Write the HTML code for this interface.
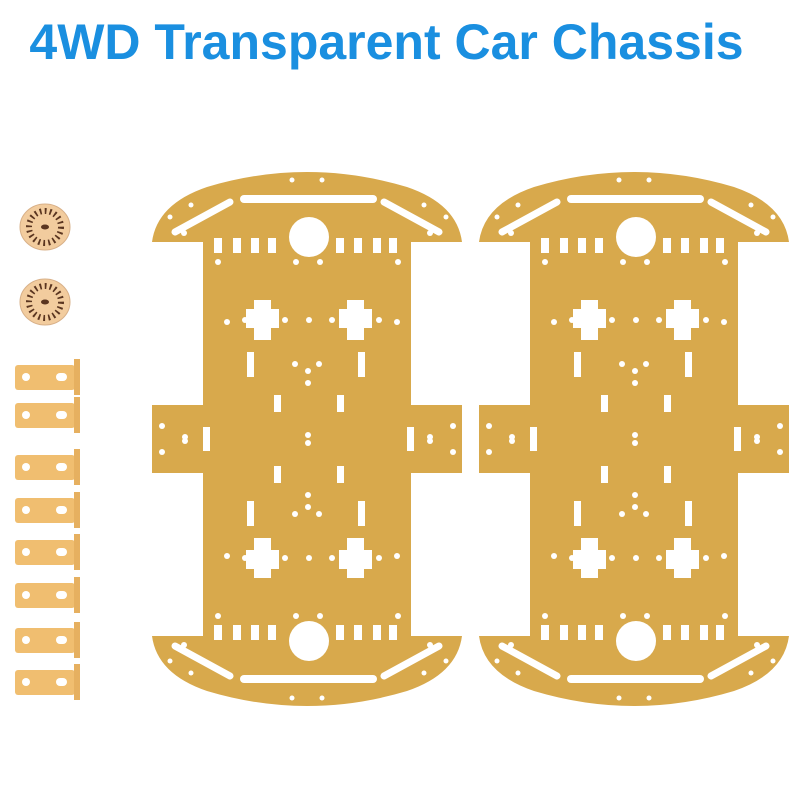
<!DOCTYPE html>
<html><head><meta charset="utf-8"><style>
html,body{margin:0;padding:0;background:#fff;width:800px;height:800px;overflow:hidden}
.t{position:absolute;left:0;top:12px;width:773px;text-align:center;font-family:"Liberation Sans",sans-serif;font-weight:bold;font-size:50px;line-height:60px;color:#1a8fe0;white-space:nowrap}
</style></head><body>
<div class="t">4WD Transparent Car Chassis</div>
<svg width="800" height="800" style="position:absolute;left:0;top:0">
<defs>
<g id="half" fill="#fff">
  <circle cx="2" cy="-202" r="20"/>
  <rect x="-67" y="-244" width="137" height="8" rx="4"/>
  <line x1="-132" y1="-207" x2="-77" y2="-237" stroke="#fff" stroke-width="7" stroke-linecap="round"/>
  <line x1="132" y1="-207" x2="77" y2="-237" stroke="#fff" stroke-width="7" stroke-linecap="round"/>
  <rect x="-93" y="-201" width="8" height="15"/><rect x="-74" y="-201" width="8" height="15"/>
  <rect x="-56" y="-201" width="8" height="15"/><rect x="-39" y="-201" width="8" height="15"/>
  <rect x="29" y="-201" width="8" height="15"/><rect x="47" y="-201" width="8" height="15"/>
  <rect x="66" y="-201" width="8" height="15"/><rect x="82" y="-201" width="8" height="15"/>
  <path d="M-53,-139h17v9h8v19h-8v12h-17v-12h-8v-19h8z"/>
  <path d="M40,-139h17v9h8v19h-8v12h-17v-12h-8v-19h8z"/>
  <rect x="-60" y="-87" width="7" height="25"/><rect x="51" y="-87" width="7" height="25"/>
  <rect x="-33" y="-44" width="7" height="17"/><rect x="30" y="-44" width="7" height="17"/>
  <rect x="-104" y="-12" width="7" height="22"/><rect x="100" y="-12" width="7" height="22"/>
  <circle cx="-62" cy="-119" r="3"/><circle cx="-80" cy="-117" r="3"/><circle cx="-22" cy="-119" r="3"/>
  <circle cx="2" cy="-119" r="3"/><circle cx="25" cy="-119" r="3"/><circle cx="72" cy="-119" r="3"/><circle cx="90" cy="-117" r="3"/>
  <circle cx="-89" cy="-177" r="3"/><circle cx="91" cy="-177" r="3"/><circle cx="-11" cy="-177" r="3"/><circle cx="13" cy="-177" r="3"/>
  <circle cx="-12" cy="-75" r="3"/><circle cx="12" cy="-75" r="3"/><circle cx="1" cy="-68" r="3"/><circle cx="1" cy="-56" r="3"/>
  <circle cx="1" cy="-4" r="3"/><circle cx="-145" cy="-13" r="3"/><circle cx="146" cy="-13" r="3"/><circle cx="-122" cy="-2" r="3"/><circle cx="123" cy="-2" r="3"/>
  <circle cx="-15" cy="-259" r="2.5"/><circle cx="15" cy="-259" r="2.5"/>
  <circle cx="-137" cy="-222" r="2.5"/><circle cx="-116" cy="-234" r="2.5"/><circle cx="-123" cy="-206" r="3"/>
  <circle cx="139" cy="-222" r="2.5"/><circle cx="117" cy="-234" r="2.5"/><circle cx="123" cy="-206" r="3"/>
</g>
<g id="ch">
  <path fill="#d8a94c" d="M-104,-197 L-155,-197 Q-150,-235 -100,-252 Q0,-282 100,-252 Q150,-235 155,-197 L104,-197 L104,-34 L155,-34 L155,34 L104,34 L104,197 L155,197 Q150,235 100,252 Q0,282 -100,252 Q-150,235 -155,197 L-104,197 L-104,34 L-155,34 L-155,-34 L-104,-34 Z"/>
  <use href="#half"/>
  <use href="#half" transform="scale(1,-1)"/>
</g>
<g id="disc">
  <ellipse cx="0" cy="0" rx="25" ry="23" fill="#f2cc9e" stroke="#d8b088" stroke-width="1"/>
  <circle r="16" fill="none" stroke="#5a3520" stroke-width="6" stroke-dasharray="1.8 3.2"/>
  <ellipse rx="4" ry="2.5" fill="#5a3520"/>
</g>
<g id="br">
  <rect x="15" y="0" width="60" height="25" rx="3" fill="#f0be70"/>
  <rect x="74" y="-6" width="6" height="36" fill="#e6b060"/>
  <circle cx="26" cy="12" r="4" fill="#fff"/>
  <rect x="56" y="8" width="11" height="8" rx="4" fill="#fff"/>
</g>
</defs>
<use href="#ch" transform="translate(307,439)"/>
<use href="#ch" transform="translate(634,439)"/>
<use href="#disc" transform="translate(45,227)"/>
<use href="#disc" transform="translate(45,302)"/>
<use href="#br" y="365"/><use href="#br" y="403"/><use href="#br" y="455"/><use href="#br" y="498"/>
<use href="#br" y="540"/><use href="#br" y="583"/><use href="#br" y="628"/><use href="#br" y="670"/>
</svg>
</body></html>
